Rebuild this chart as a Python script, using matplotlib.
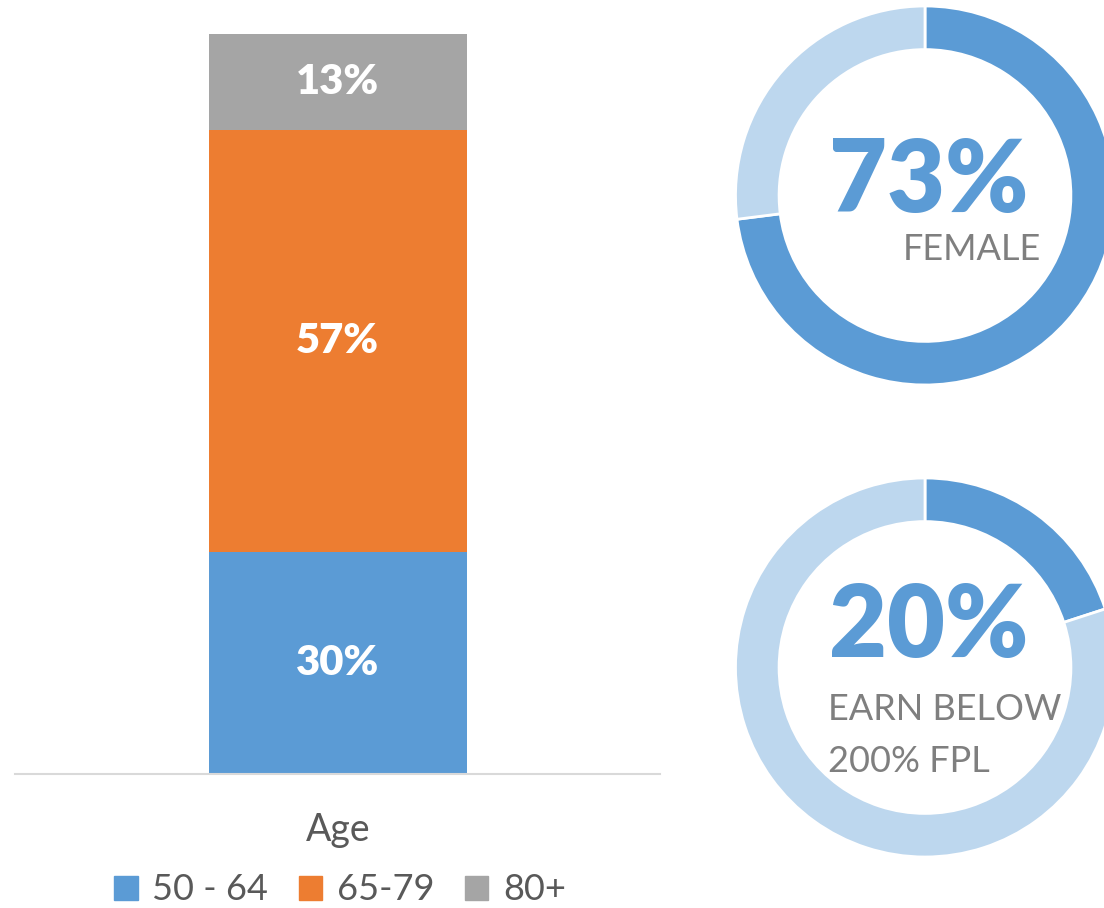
import matplotlib.pyplot as plt
from matplotlib.patches import Patch

plt.rcParams['font.family'] = ['Lato', 'DejaVu Sans']

# ── data ──────────────────────────────────────────
age_groups = ['50 - 64', '65-79', '80+']
age_share = [30, 57, 13]
female_share = 73
low_income_share = 20

BLUE = '#5B9BD5'
ORANGE = '#ED7D31'
GRAY = '#A5A5A5'
LIGHT = '#BDD7EE'
TXT = '#595959'
LBL = '#7F7F7F'
bar_colors = [BLUE, ORANGE, GRAY]

W, H = 1104, 908
fig = plt.figure(figsize=(W / 100, H / 100), dpi=100, facecolor='white')

def px_axes(x0, y0, x1, y1):
    # pixel box (top-left origin) -> figure axes
    return fig.add_axes([x0 / W, 1 - y1 / H, (x1 - x0) / W, (y1 - y0) / H])

# ── stacked bar ───────────────────────────────────
ax = px_axes(15, 34, 660, 774)
bottom = 0
for name, val, c in zip(age_groups, age_share, bar_colors):
    ax.bar(0, val, width=0.40, bottom=bottom, color=c, label=name)
    ax.text(0, bottom + val / 2, f'{val}%', ha='center', va='center',
            fontsize=30, fontweight='heavy', color='white')
    bottom += val
ax.set_xlim(-0.5, 0.5)
ax.set_ylim(0, 100)
for s in ['top', 'right', 'left']:
    ax.spines[s].set_visible(False)
ax.spines['bottom'].set_color('#D9D9D9')
ax.spines['bottom'].set_linewidth(1.5)
ax.set_yticks([])
ax.set_xticks([])

fig.text(338 / W, 1 - 830 / H, 'Age', ha='center', va='center',
         fontsize=27, color=TXT)

handles = [Patch(color=c, label=n) for n, c in zip(age_groups, bar_colors)]
fig.legend(handles=handles, loc='center', bbox_to_anchor=(340 / W, 1 - 890 / H),
           ncol=3, frameon=False, fontsize=26, handlelength=0.65,
           handleheight=0.65, handletextpad=0.4, columnspacing=0.85,
           labelcolor=TXT)

# ── donuts ────────────────────────────────────────
def donut(cx, cy, r, share):
    a = px_axes(cx - r, cy - r, cx + r, cy + r)
    a.pie([share, 100 - share], colors=[BLUE, LIGHT], startangle=90,
          counterclock=False, radius=1,
          wedgeprops=dict(width=0.23, edgecolor='white', linewidth=2))
    a.set_xlim(-1, 1)
    a.set_ylim(-1, 1)
    a.set_aspect('equal')
    a.axis('off')
    return a

d1 = donut(925, 195.5, 189.5, female_share)
d1.text(0.02, -0.087, f'{female_share}%', ha='center', va='baseline',
        fontsize=72, fontweight='heavy', color=BLUE)
d1.text(-0.12, -0.34, 'FEMALE', ha='left', va='baseline',
        fontsize=26, color=LBL)

d2 = donut(925, 667.5, 189.5, low_income_share)
d2.text(0.018, 0.055, f'{low_income_share}%', ha='center', va='baseline',
        fontsize=72, fontweight='heavy', color=BLUE)
d2.text(-0.51, -0.277, 'EARN BELOW', ha='left', va='baseline',
        fontsize=26, color=LBL)
d2.text(-0.51, -0.551, '200% FPL', ha='left', va='baseline',
        fontsize=26, color=LBL)

fig.savefig('out.png', dpi=100, facecolor='white')
